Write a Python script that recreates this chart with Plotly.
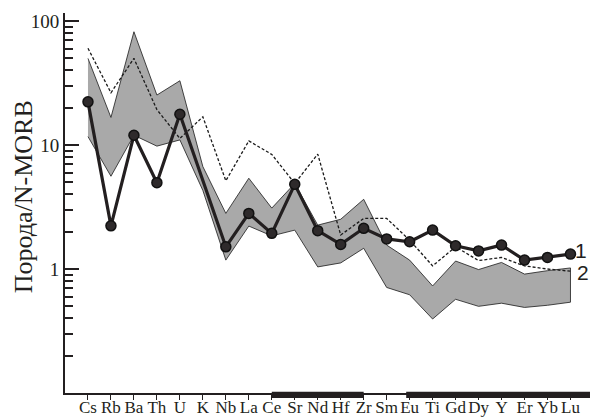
import plotly.graph_objects as go

elements = ["Cs", "Rb", "Ba", "Th", "U", "K", "Nb", "La", "Ce", "Sr", "Nd",
            "Hf", "Zr", "Sm", "Eu", "Ti", "Gd", "Dy", "Y", "Er", "Yb", "Lu"]

# series 1 (thick line with markers); K not reported
series1 = [22.3, 2.23, 12.0, 4.97, 17.7, None, 1.51, 2.81, 1.94, 4.82, 2.04,
           1.58, 2.13, 1.75, 1.66, 2.06, 1.54, 1.40, 1.56, 1.18, 1.24, 1.32]

# series 2 (dashed line)
series2 = [60.3, 26.4, 50.0, 19.3, 11.3, 16.9, 5.15, 10.8, 8.4, 4.9, 8.45,
           1.88, 2.56, 2.56, 1.71, 1.06, 1.51, 1.17, 1.24, 1.06, 1.00, 0.96]

# grey field: upper and lower envelope
field_upper = [50.0, 16.7, 82.0, 25.3, 33.0, 6.7, 2.81, 5.4, 3.1, 4.9, 2.26,
               2.52, 3.65, 1.56, 1.18, 0.73, 1.16, 0.99, 1.13, 0.91, 0.97, 1.02]
field_lower = [11.7, 5.6, 12.0, 9.8, 11.0, 4.3, 1.18, 2.22, 1.85, 2.06, 1.04,
               1.12, 1.47, 0.71, 0.62, 0.395, 0.57, 0.50, 0.53, 0.49, 0.51, 0.54]

major_ticks = [1, 10, 100]
minor_ticks = [v * m for m in (0.1, 1, 10) for v in range(2, 10)]

series_labels = ["1", "2"]

fig = go.Figure()

fig.add_trace(go.Scatter(
    x=elements + elements[::-1],
    y=field_upper + field_lower[::-1],
    fill="toself", fillcolor="#a9a9a9",
    line=dict(color="#1a1a1a", width=0.8),
    mode="lines", hoverinfo="skip", showlegend=False))

fig.add_trace(go.Scatter(
    x=elements, y=series2, mode="lines",
    line=dict(color="#1a1a1a", width=1.3, dash="3px,2px"),
    showlegend=False))

fig.add_trace(go.Scatter(
    x=elements, y=series1, mode="lines+markers", connectgaps=True,
    line=dict(color="#231f20", width=3.2),
    marker=dict(size=10, color="#2e2a2b", line=dict(color="#111", width=1.5)),
    showlegend=False))

serif = "Liberation Serif, Times New Roman, serif"
sans = "Liberation Sans, Arial, sans-serif"

fig.update_layout(
    width=591, height=418,
    margin=dict(l=65, r=1, t=13, b=25),
    paper_bgcolor="white", plot_bgcolor="white",
    font=dict(family=serif, color="#231f20"),
    xaxis=dict(
        type="category", range=[-1, 21.85], automargin=False, tickangle=0,
        showline=True, linecolor="#231f20", linewidth=2,
        ticks="outside", ticklen=5, tickwidth=1.2, tickcolor="#231f20",
        ticklabelstandoff=-7,
        tickfont=dict(family=serif, size=17, color="#231f20"),
        showgrid=False, zeroline=False, mirror=False),
    yaxis=dict(
        type="log", range=[-1, 2.065], automargin=False,
        showline=True, linecolor="#231f20", linewidth=2,
        tickvals=major_ticks, ticktext=[str(v) for v in major_ticks],
        ticks="inside", ticklen=14, tickwidth=1.5, tickcolor="#231f20",
        minor=dict(tickvals=minor_ticks, ticks="inside", ticklen=8,
                   tickwidth=1.5, tickcolor="#231f20", showgrid=False),
        tickfont=dict(family=serif, size=19, color="#231f20"),
        showgrid=False, zeroline=False),
)

# black bars along the base
for x0, x1 in [(8, 12), (13.85, 21.85)]:
    fig.add_shape(type="rect", xref="x", yref="paper", x0=x0, x1=x1,
                  y0=-0.013, y1=0.003, fillcolor="#231f20", line_width=0)

fig.add_annotation(text="Порода/N-MORB", xref="paper", yref="paper",
                   x=-0.080, y=0.515, textangle=-90, showarrow=False,
                   xanchor="center", yanchor="middle",
                   font=dict(family=serif, size=26, color="#231f20"))

# series labels at the right end (paper coordinates)
fig.add_annotation(text=series_labels[0], xref="paper", yref="paper",
                   x=0.982, y=0.376, showarrow=False,
                   xanchor="center", yanchor="middle",
                   font=dict(family=sans, size=21, color="#231f20"))
fig.add_annotation(text=series_labels[1], xref="paper", yref="paper",
                   x=0.987, y=0.318, showarrow=False,
                   xanchor="center", yanchor="middle",
                   font=dict(family=sans, size=21, color="#231f20"))

# remove the default page margin so the figure fills the window exactly
fig.write_html("out.html",
               config={"displayModeBar": False},
               post_script="document.body.style.margin='0';"
                           "document.body.style.overflow='hidden';")
